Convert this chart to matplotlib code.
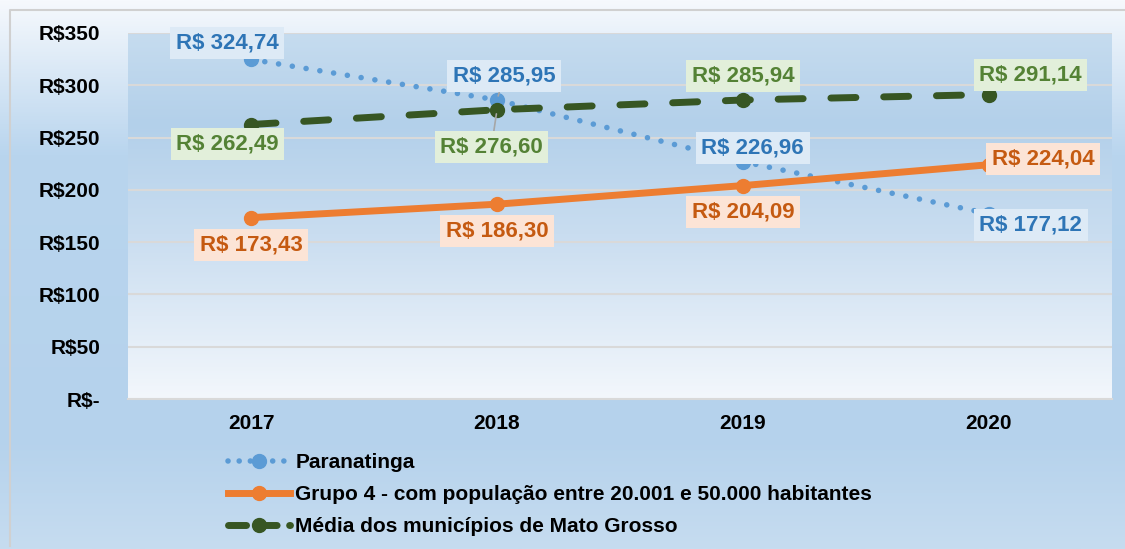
import numpy as np
import matplotlib
matplotlib.use("Agg")
import matplotlib.pyplot as plt
from matplotlib.lines import Line2D
from matplotlib.colors import LinearSegmentedColormap

plt.rcParams['font.family'] = ['Liberation Sans', 'DejaVu Sans']
plt.rcParams['font.weight'] = 'bold'

anos = ['2017', '2018', '2019', '2020']
paranatinga = [324.74, 285.95, 226.96, 177.12]
grupo4 = [173.43, 186.30, 204.09, 224.04]
media_mt = [262.49, 276.60, 285.94, 291.14]
nomes = ['Paranatinga',
         'Grupo 4 - com população entre 20.001 e 50.000 habitantes',
         'Média dos municípios de Mato Grosso']
yticks = [0, 50, 100, 150, 200, 250, 300, 350]
ytick_labels = ['R$-', 'R$50', 'R$100', 'R$150', 'R$200', 'R$250', 'R$300', 'R$350']

azul, laranja, verde = '#5b9bd5', '#ed7d31', '#375623'


def fmt(v):
    return 'R$ ' + f'{v:.2f}'.replace('.', ',')


fig = plt.figure(figsize=(11.25, 5.49), dpi=100)

# fundo da figura (gradiente)
bg = fig.add_axes([0, 0, 1, 1], zorder=-10)
cm_bg = LinearSegmentedColormap.from_list('bg', [(0, '#f6f9fd'), (0.28, '#b9d5ee'),
                                                 (0.8, '#b5d2ec'), (1, '#c6dcf0')])
bg.imshow(np.linspace(0, 1, 256)[:, None], aspect='auto', cmap=cm_bg,
          extent=[0, 1, 0, 1], origin='upper')
bg.plot([0.009, 0.009, 1.0], [0.005, 0.982, 0.982], color='#d0d0d0', lw=1.5)
bg.set_xlim(0, 1)
bg.set_ylim(0, 1)
bg.axis('off')

ax = fig.add_axes([0.1138, 0.2732, 0.8746, 0.6667])
cm_ax = LinearSegmentedColormap.from_list('ax', [(0, '#c6dcef'), (0.25, '#b3d0ea'),
                                                 (0.55, '#c9ddf0'), (1, '#f3f7fc')])
ax.imshow(np.linspace(0, 1, 256)[:, None], aspect='auto', cmap=cm_ax,
          extent=[-0.5, 3.5, 0, 350], origin='upper', zorder=0)

x = np.arange(len(anos))
ax.plot(x, paranatinga, color=azul, lw=4.0, linestyle=(0, (0.01, 2.5)),
        dash_capstyle='round', marker='o', markersize=10, zorder=3)
ax.plot(x, grupo4, color=laranja, lw=5.0, marker='o', markersize=10, zorder=4)
ax.plot(x, media_mt, color=verde, lw=5.0, linestyle=(0, (3.6, 4.0)),
        dash_capstyle='round', marker='o', markersize=10, zorder=5)

ax.set_xlim(-0.5, 3.5)
ax.set_ylim(0, 350)
ax.set_yticks(yticks)
ax.set_yticklabels(ytick_labels)
ax.set_xticks(x)
ax.set_xticklabels(anos)
ax.tick_params(length=0, labelsize=15)
ax.tick_params(axis='y', pad=20)
ax.tick_params(axis='x', pad=11)
for v in yticks[1:]:
    ax.axhline(v, color='#d9d9d9', lw=1.5, zorder=1)
for s in ['top', 'right', 'left']:
    ax.spines[s].set_visible(False)
ax.spines['bottom'].set_color('#d9d9d9')
ax.spines['bottom'].set_linewidth(1.5)


def rotulo(xi, yi, texto, dx, dy, cor, fundo, linha=False):
    ax.annotate(texto, (xi, yi), xytext=(dx, dy), textcoords='offset points',
                ha='center', va='center', fontsize=16, color=cor, fontweight='bold',
                bbox=dict(boxstyle='square,pad=0.25', fc=fundo, ec='none'),
                arrowprops=dict(arrowstyle='-', color='#a6a6a6', lw=1.2,
                                shrinkA=0, shrinkB=3) if linha else None,
                zorder=6)


azul_txt, azul_bg = '#2e75b6', '#ddeaf6'
verde_txt, verde_bg = '#548235', '#e2efda'
lar_txt, lar_bg = '#c55a11', '#fce4d6'

off_par = [(-17, 12), (5, 17), (7, 10), (30, -8)]
off_gr = [(0, -20), (0, -19), (0, -19), (39, 4)]
off_md = [(-17, -14), (-4, -27), (0, 17), (30, 14)]
for i in range(len(anos)):
    rotulo(x[i], paranatinga[i], fmt(paranatinga[i]), *off_par[i], azul_txt, azul_bg,
           linha=(i == 1))
    rotulo(x[i], grupo4[i], fmt(grupo4[i]), *off_gr[i], lar_txt, lar_bg)
    rotulo(x[i], media_mt[i], fmt(media_mt[i]), *off_md[i], verde_txt, verde_bg,
           linha=(i == 1))

handles = [
    Line2D([], [], color=azul, lw=4.0, linestyle=(0, (0.01, 2.0)), dash_capstyle='round',
           marker='o', markersize=10),
    Line2D([], [], color=laranja, lw=5.0, marker='o', markersize=10),
    Line2D([], [], color=verde, lw=5.0, linestyle=(0, (2.6, 1.8)), dash_capstyle='round',
           marker='o', markersize=10),
]
fig.legend(handles, nomes, loc='upper left', bbox_to_anchor=(0.195, 0.19),
           frameon=False, fontsize=15, handlelength=3.0, handletextpad=0.25,
           labelspacing=0.62, borderaxespad=0)

fig.savefig('out.png', dpi=100)
